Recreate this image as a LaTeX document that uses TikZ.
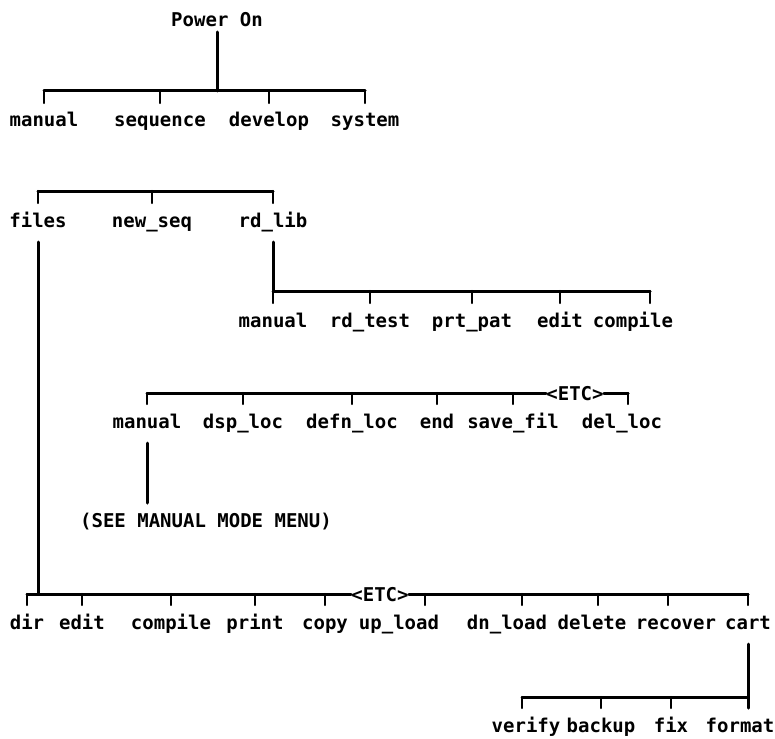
\documentclass[tikz,border=0pt]{standalone}
\usepackage{fontspec}
\newfontfamily\lblfam{DejaVu Sans Mono}
\newcommand\lblf{\lblfam\bfseries\fontsize{19}{19}\selectfont}
\begin{document}
\begin{tikzpicture}[x=1pt,y=-1pt,
  lbl/.style={font=\lblf, anchor=base, inner sep=0pt, text height=13pt, text depth=4pt, outer ysep=11pt},
  etcbox/.style={font=\lblf, anchor=center, inner sep=0pt, text height=14pt, text depth=0pt},
  barline/.style={line width=3pt, line cap=round, line join=round},
  tickline/.style={line width=2.4pt, line cap=round}]
\useasboundingbox (0,0) rectangle (775,738);
% level 0
\node[lbl, outer ysep=1pt] (pw) at (217,27) {Power On};
% row 1
\coordinate (b1) at (0,91);
\node[lbl] (m1) at (44,127) {manual};
\node[lbl] (seq) at (160,127) {sequence};
\node[lbl] (dev) at (269,127) {develop};
\node[lbl] (sys) at (365,127) {system};
\draw[barline] (pw.south) -- (pw.south |- b1);
\draw[barline] (m1.north |- b1) -- (sys.north |- b1);
\foreach \n in {m1,seq,dev,sys} \draw[tickline] (\n.north |- b1) -- (\n.north);
% row 2
\coordinate (b2) at (0,191);
\node[lbl] (files) at (38,227) {files};
\node[lbl] (newseq) at (152,227) {new\_seq};
\node[lbl] (rdlib) at (273,227) {rd\_lib};
\draw[barline] (files.north |- b2) -- (rdlib.north |- b2);
\foreach \n in {files,newseq,rdlib} \draw[tickline] (\n.north |- b2) -- (\n.north);
% row 3
\coordinate (b3) at (0,291);
\node[lbl] (man3) at (273,327) {manual};
\node[lbl] (rdtest) at (370,327) {rd\_test};
\node[lbl] (prtpat) at (472,327) {prt\_pat};
\node[lbl] (edit3) at (560,327) {edit};
\node[lbl] (comp3) at (633,327) {compile};
\draw[barline] (rdlib.south) -- (rdlib.south |- b3);
\draw[barline] (man3.north |- b3) -- ([xshift=17pt]comp3.north |- b3);
\foreach \n in {man3,rdtest,prtpat,edit3} \draw[tickline] (\n.north |- b3) -- (\n.north);
\draw[tickline] ([xshift=17pt]comp3.north |- b3) -- ([xshift=17pt]comp3.north);
% row 4
\coordinate (b4) at (0,393);
\node[lbl] (man4) at (147,428) {manual};
\node[lbl] (dsp) at (243,428) {dsp\_loc};
\node[lbl] (defn) at (352,428) {defn\_loc};
\node[lbl] (end4) at (437,428) {end};
\node[lbl] (save) at (513,428) {save\_fil};
\node[lbl] (del4) at (622,428) {del\_loc};
\node[etcbox] (etc4) at (575,393) {<ETC>};
\draw[barline] (man4.north |- b4) -- (etc4.west);
\draw[barline] (etc4.east) -- ([xshift=6pt]del4.north |- b4);
\foreach \n in {man4,dsp,defn,end4,save} \draw[tickline] (\n.north |- b4) -- (\n.north);
\draw[tickline] ([xshift=6pt]del4.north |- b4) -- ([xshift=6pt]del4.north);
\node[lbl] (see) at (206,527) {(SEE MANUAL MODE MENU)};
\draw[barline] (man4.south) -- (man4.south |- see.north);
% row 5
\coordinate (b5) at (0,594);
\node[lbl] (dir) at (27,629) {dir};
\node[lbl] (edit5) at (82,629) {edit};
\node[lbl] (comp5) at (171,629) {compile};
\node[lbl] (print) at (255,629) {print};
\node[lbl] (copy) at (325,629) {copy};
\node[lbl] (up) at (399,629) {up\_load};
\node[lbl] (dn) at (507,629) {dn\_load};
\node[lbl] (del5) at (592,629) {delete};
\node[lbl] (rec) at (676,629) {recover};
\node[lbl] (cart) at (748,629) {cart};
\node[etcbox] (etc5) at (380,594) {<ETC>};
\draw[barline] (files.south) -- (files.south |- b5);
\draw[barline] (dir.north |- b5) -- (etc5.west);
\draw[barline] (etc5.east) -- (cart.north |- b5);
\foreach \n in {dir,edit5,comp5,print,copy,cart} \draw[tickline] (\n.north |- b5) -- (\n.north);
\draw[tickline] ([xshift=26pt]up.north |- b5) -- ([xshift=26pt]up.north);
\draw[tickline] ([xshift=15pt]dn.north |- b5) -- ([xshift=15pt]dn.north);
\draw[tickline] ([xshift=6pt]del5.north |- b5) -- ([xshift=6pt]del5.north);
\draw[tickline] ([xshift=-8pt]rec.north |- b5) -- ([xshift=-8pt]rec.north);
% row 6
\coordinate (b6) at (0,697);
\node[lbl] (verify) at (526,732) {verify};
\node[lbl] (backup) at (601,732) {backup};
\node[lbl] (fix) at (671,732) {fix};
\node[lbl] (format) at (740,732) {format};
\draw[barline] (cart.south) -- (cart.south |- format.north);
\draw[barline] ([xshift=-4pt]verify.north |- b6) -- (cart.south |- b6);
\draw[tickline] ([xshift=-4pt]verify.north |- b6) -- ([xshift=-4pt]verify.north);
\foreach \n in {backup,fix} \draw[tickline] (\n.north |- b6) -- (\n.north);
\end{tikzpicture}
\end{document}
